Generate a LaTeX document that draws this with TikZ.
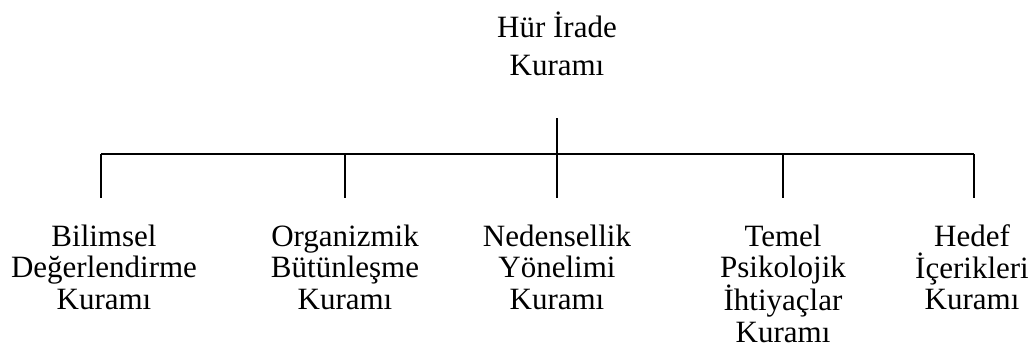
\documentclass[tikz,border=0pt]{standalone}
\usepackage{fontspec}
\setmainfont{Liberation Serif}
\newfontfamily\tnr{Liberation Serif}
\begin{document}
\begin{tikzpicture}[x=1pt,y=-1pt,
  lbl/.style={align=center,inner sep=0pt,anchor=north,font=\tnr\fontsize{31}{31.5}\selectfont},
  rootlbl/.style={lbl,font=\tnr\fontsize{31}{38}\selectfont},
  conn/.style={line width=1.6pt}]
\useasboundingbox (0,0) rectangle (1035,354);
\node[rootlbl] (root) at (557,11.5) {Hür İrade\\Kuramı};
\node[lbl] (a) at (104,224.5) {Bilimsel\\Değerlendirme\\Kuramı};
\node[lbl] (b) at (345,224.5) {Organizmik\\Bütünleşme\\Kuramı};
\node[lbl] (c) at (557,224.5) {Nedensellik\\Yönelimi\\Kuramı};
\node[lbl] (d) at (783,224.5) {Temel\\Psikolojik\\İhtiyaçlar\\Kuramı};
\node[lbl] (e) at (972,224.5) {Hedef\\İçerikleri\\Kuramı};
\coordinate (rt) at (557,118);
\coordinate (j) at (557,154);
\coordinate (ja) at (101,154);
\coordinate (jb) at (345,154);
\coordinate (jd) at (783,154);
\coordinate (je) at (974,154);
\coordinate (ea) at (101,198);
\coordinate (eb) at (345,198);
\coordinate (ec) at (557,198);
\coordinate (ed) at (783,198);
\coordinate (ee) at (974,198);
\draw[conn] (rt) -- (j);
\draw[conn] (ja) -- (je);
\draw[conn] (ja) -- (ea);
\draw[conn] (jb) -- (eb);
\draw[conn] (j) -- (ec);
\draw[conn] (jd) -- (ed);
\draw[conn] (je) -- (ee);
\end{tikzpicture}
\end{document}
